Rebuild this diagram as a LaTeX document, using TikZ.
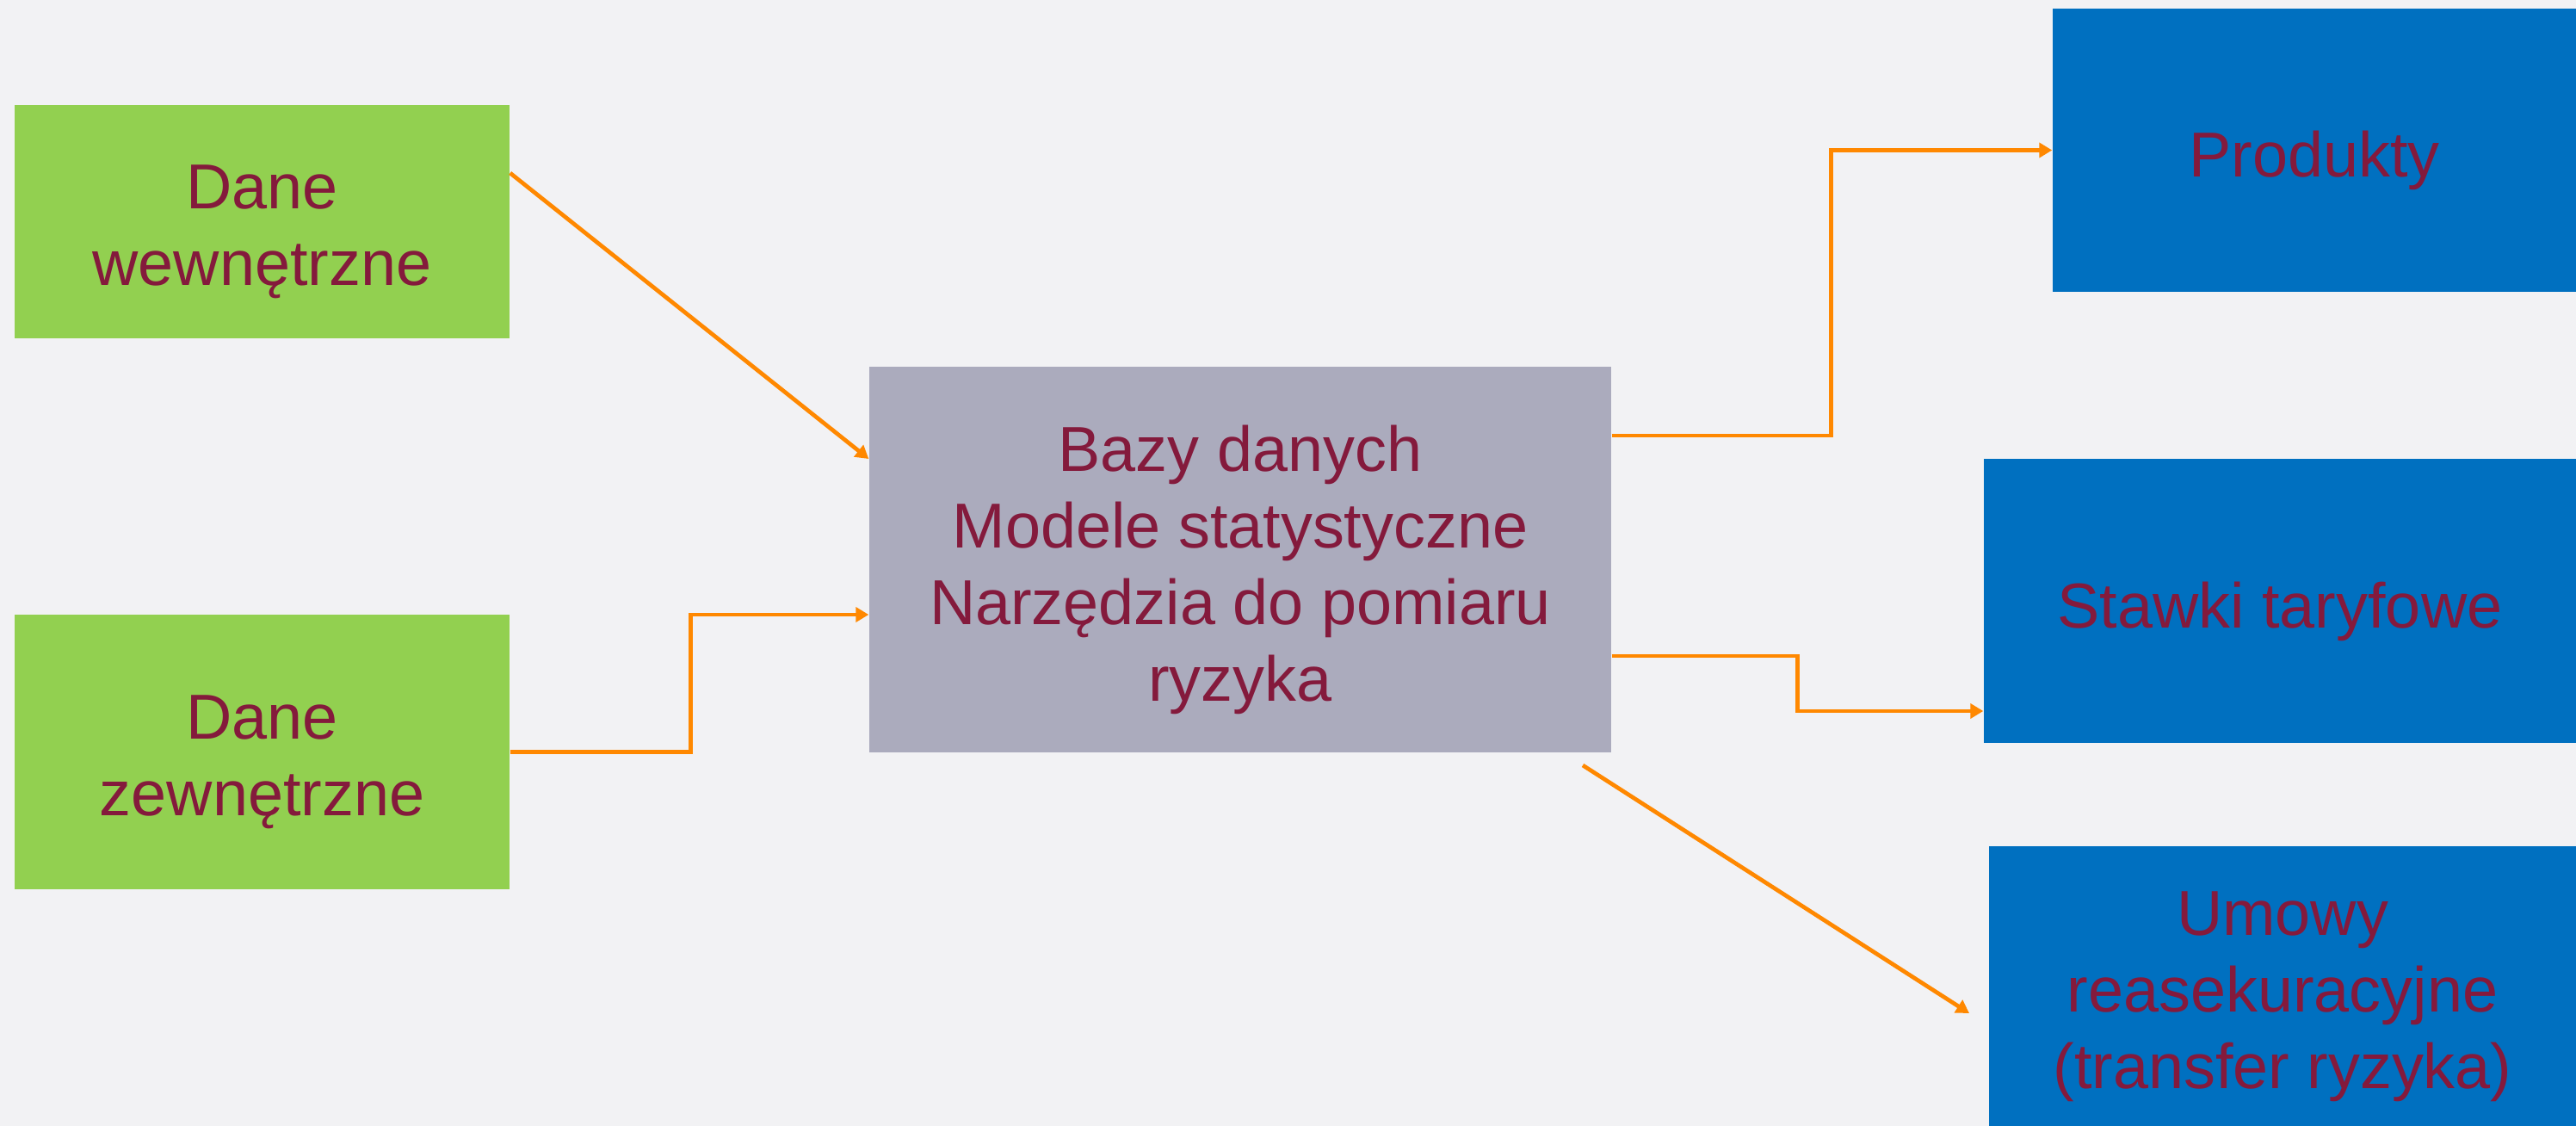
\documentclass[tikz,border=0pt]{standalone}
\usepackage{fontspec}
\setmainfont{Liberation Sans}
\usetikzlibrary{arrows.meta,calc}
\definecolor{bgc}{HTML}{F2F2F4}
\definecolor{greenc}{HTML}{92D050}
\definecolor{grayc}{HTML}{ABABBD}
\definecolor{bluec}{HTML}{0070C0}
\definecolor{textc}{HTML}{841A3C}
\definecolor{orangec}{HTML}{FF8800}
\tikzset{
  boxbase/.style={rectangle, inner sep=0pt},
  textlab/.style={inner sep=0pt, align=center, text=textc, yshift=-0.12cm,
    font=\fontsize{21}{25.3}\selectfont},
  greenbox/.style={boxbase, fill=greenc},
  graybox/.style={boxbase, fill=grayc},
  bluebox/.style={boxbase, fill=bluec},
  conn/.style={draw=orangec, line width=1.35pt,
    -{Triangle[length=0.15cm,width=0.17cm]}},
}
\begin{document}
\begin{tikzpicture}
\fill[bgc] (0,0) rectangle (29.93,-13.08);
\useasboundingbox (0,0) rectangle (29.93,-13.08);

\node[greenbox, minimum width=5.75cm, minimum height=2.71cm,
  label={[textlab]center:{Dane\\wewnętrzne}}] (wew) at (3.045,-2.575) {};
\node[greenbox, minimum width=5.75cm, minimum height=3.19cm,
  label={[textlab]center:{Dane\\zewnętrzne}}] (zew) at (3.045,-8.735) {};
\node[graybox, minimum width=8.62cm, minimum height=4.48cm,
  label={[textlab]center:{Bazy danych\\Modele statystyczne\\Narzędzia do pomiaru\\ryzyka}}] (gray) at (14.41,-6.50) {};
\node[bluebox, minimum width=6.08cm, minimum height=3.29cm,
  label={[textlab]center:{Produkty}}] (prod) at (26.89,-1.745) {};
\node[bluebox, minimum width=6.88cm, minimum height=3.30cm,
  label={[textlab]center:{Stawki taryfowe}}] (staw) at (26.49,-6.98) {};
\node[bluebox, minimum width=6.82cm, minimum height=3.25cm,
  label={[textlab]center:{Umowy\\reasekuracyjne\\(transfer ryzyka)}}] (umo) at (26.52,-11.455) {};

\coordinate (s1) at ($(wew.east)+(0,0.565)$);
\coordinate (e1) at ($(gray.west)+(0,1.17)$);
\draw[conn] (s1) -- (e1);

\draw[conn] (zew.east) -- ++(2.10,0) |- ($(gray.west)+(0,-0.64)$);

\draw[conn] ($(gray.east)+(0,1.44)$) -- ++(2.55,0) |- (prod.west);

\draw[conn] ($(gray.east)+(0,-1.12)$) -- ++(2.16,0) |- ($(staw.west)+(0,-1.28)$);

\coordinate (s5) at (18.39,-8.89);
\coordinate (e5) at (22.88,-11.77);
\draw[conn] (s5) -- (e5);
\end{tikzpicture}
\end{document}
